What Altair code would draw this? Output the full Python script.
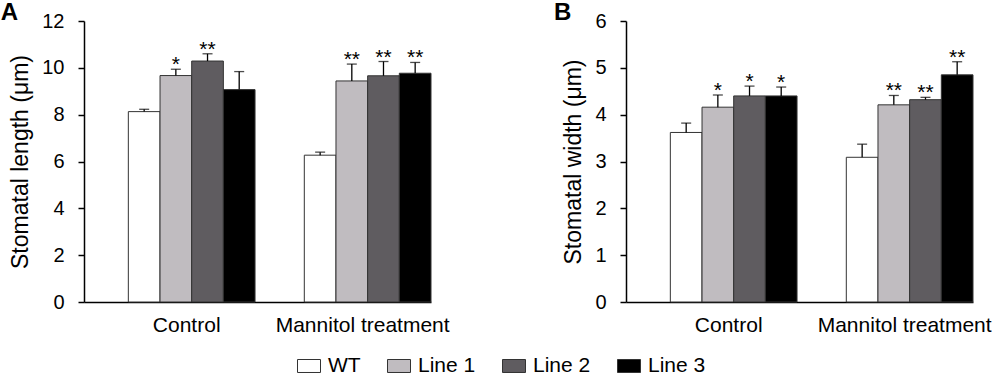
import altair as alt
import pandas as pd

groups = ["Control", "Mannitol treatment"]
lines = ["WT", "Line 1", "Line 2", "Line 3"]
colors = ["#FFFFFF", "#C0BCC0", "#5F5C60", "#000000"]

# Panel A: stomatal length (µm)
len_control = [8.13, 9.67, 10.29, 9.07]
len_control_err = [0.10, 0.27, 0.31, 0.77]
len_control_sig = ["", "*", "**", ""]
len_mannitol = [6.27, 9.44, 9.66, 9.77]
len_mannitol_err = [0.13, 0.72, 0.61, 0.46]
len_mannitol_sig = ["", "**", "**", "**"]

# Panel B: stomatal width (µm)
wid_control = [3.62, 4.16, 4.40, 4.40]
wid_control_err = [0.20, 0.26, 0.21, 0.19]
wid_control_sig = ["", "*", "*", "*"]
wid_mannitol = [3.09, 4.21, 4.32, 4.85]
wid_mannitol_err = [0.28, 0.20, 0.05, 0.28]
wid_mannitol_sig = ["", "**", "**", "**"]


def make_df(c, ce, cs, m, me, ms):
    rows = []
    for g, vals, errs, sigs in [(groups[0], c, ce, cs), (groups[1], m, me, ms)]:
        for ln, v, e, s in zip(lines, vals, errs, sigs):
            rows.append({"group": g, "line": ln, "value": v, "err": e, "sig": s})
    return pd.DataFrame(rows)


df_a = make_df(len_control, len_control_err, len_control_sig,
               len_mannitol, len_mannitol_err, len_mannitol_sig)
df_b = make_df(wid_control, wid_control_err, wid_control_sig,
               wid_mannitol, wid_mannitol_err, wid_mannitol_sig)

FONT = "Liberation Sans"


def panel(df, ymax, ystep, ytitle, letter):
    base = alt.Chart(df).transform_calculate(hi="datum.value + datum.err").encode(
        x=alt.X("group:N", sort=groups, title=None,
                scale=alt.Scale(paddingInner=0.28, paddingOuter=0.126, align=1),
                axis=alt.Axis(labelAngle=0, ticks=False, labelFontSize=21,
                              labelPadding=12, labelOffset=-5, domainColor="black",
                              domainWidth=1.5, labelColor="black")),
        xOffset=alt.XOffset("line:N", sort=lines, scale=alt.Scale(paddingInner=0, paddingOuter=0)),
    )
    bars = base.mark_bar(stroke="#333333", strokeWidth=1).encode(
        y=alt.Y("value:Q", title=ytitle,
                scale=alt.Scale(domain=[0, ymax], nice=False),
                axis=alt.Axis(values=list(range(0, ymax + 1, ystep)), grid=False,
                              tickSize=6, tickColor="black", tickWidth=1.5,
                              domainColor="black", domainWidth=1.5,
                              labelFontSize=20, labelPadding=14, labelColor="black",
                              titleFontSize=23, titleFontWeight="normal",
                              titleColor="black", titlePadding=9)),
        color=alt.Color("line:N", sort=lines, scale=alt.Scale(domain=lines, range=colors),
                        legend=alt.Legend(title=None, orient="none", direction="horizontal",
                                          legendX=213, legendY=333,
                                          symbolType="M-1,-0.565H1V0.565H-1Z", symbolSize=529,
                                          symbolStrokeColor="#333333", symbolStrokeWidth=1,
                                          labelFontSize=21, labelColor="black",
                                          columnPadding=24, labelOffset=7)),
    )
    rule = base.mark_rule(color="black", strokeWidth=1.3).encode(
        y="value:Q", y2="hi:Q")
    cap = base.mark_tick(color="black", thickness=1.3, size=10).encode(y="hi:Q")
    stars = base.mark_text(fontSize=21, baseline="bottom", dy=6, color="black",
                           font=FONT).encode(y="hi:Q", text="sig:N")
    return alt.layer(bars, rule, cap, stars).properties(
        width=347, height=281,
        title=alt.TitleParams(letter, anchor="start", frame="bounds", fontSize=24,
                              fontWeight="bold", font=FONT, offset=-14, dx=-9, color="black"),
    )


a = panel(df_a, 12, 2, "Stomatal length (μm)", "A")
b = panel(df_b, 6, 1, "Stomatal width (μm)", "B")

chart = alt.hconcat(a, b, spacing=103).resolve_scale(color="shared").configure(
    font=FONT,
    padding={"left": 0, "top": 1, "right": 0, "bottom": 0},
).configure_view(stroke=None)

chart.save("out.html", embed_options={"renderer": "svg", "actions": False})
